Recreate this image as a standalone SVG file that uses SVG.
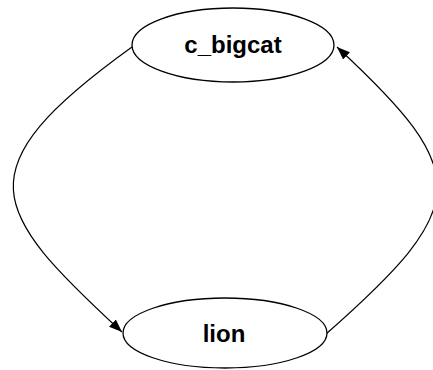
<svg xmlns="http://www.w3.org/2000/svg" width="433" height="370" viewBox="0 0 433 370">
<style>
.node ellipse{fill:#fff;stroke:#000;stroke-width:1.3}
.node text{font-family:"Liberation Sans",Arial,sans-serif;font-weight:bold;font-size:24px;text-anchor:middle;fill:#000}
.edge{fill:none;stroke:#000;stroke-width:1.2;marker-end:url(#arr)}
</style>
<defs>
<marker id="arr" markerUnits="userSpaceOnUse" markerWidth="14" markerHeight="12" refX="13" refY="5" orient="auto">
<path d="M0,0 L13,5 L0,10 Z" fill="#000"/>
</marker>
</defs>
<rect width="433" height="370" fill="#fff"/>
<g id="connectors">
<path class="edge" d="M132,47 C-39,170 -10,210 122,332"/>
<path class="edge" d="M326,334 C471,206 474,174 337,47"/>
</g>
<g id="c_bigcat" class="node">
<ellipse cx="233" cy="45" rx="101" ry="37"/>
<text x="233" y="53">c_bigcat</text>
</g>
<g id="lion" class="node">
<ellipse cx="225" cy="333" rx="102" ry="35"/>
<text x="224" y="342">lion</text>
</g>
</svg>
